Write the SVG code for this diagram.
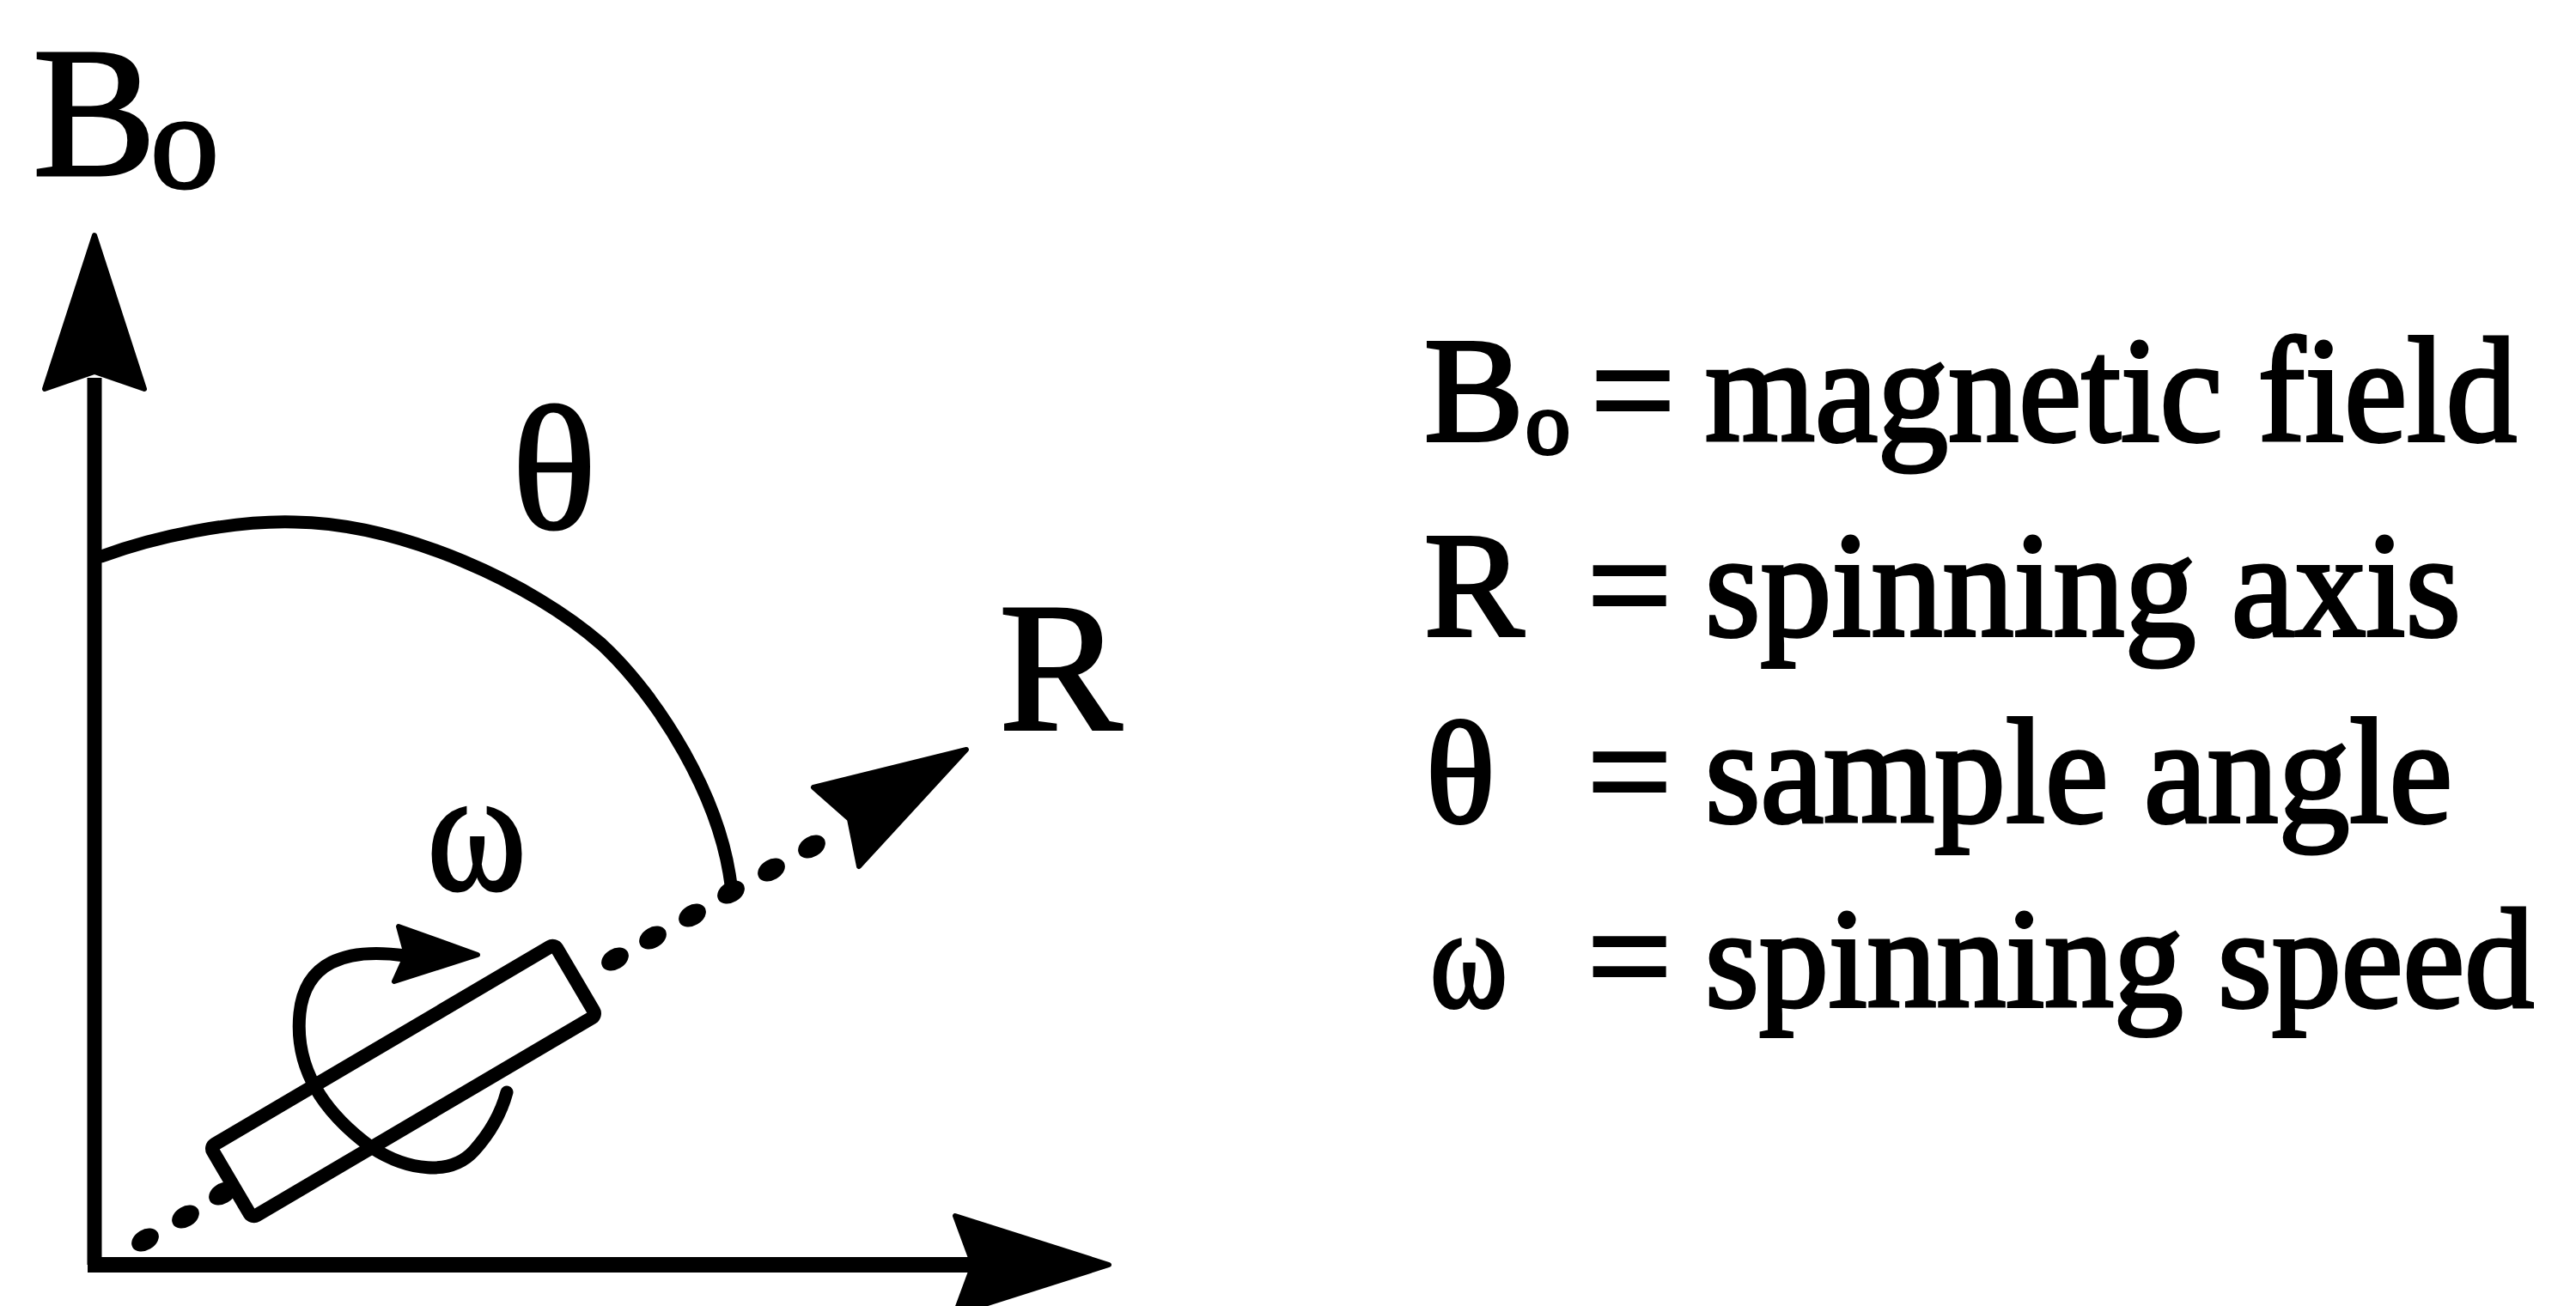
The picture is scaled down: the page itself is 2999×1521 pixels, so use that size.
<svg xmlns="http://www.w3.org/2000/svg" width="2999" height="1521" viewBox="0 0 2999 1521">
<style>
.t{font-family:"Liberation Serif","Times New Roman",serif;fill:#000;stroke:#000;stroke-width:3}
.lg{stroke-width:4}
.ln{fill:none;stroke:#000;stroke-linecap:round;stroke-linejoin:round}
.ah{fill:#000;stroke:#000;stroke-width:6;stroke-linejoin:round}
.dot{fill:#000}
</style>
<rect width="2999" height="1521" fill="#fff"/>
<g id="connectors">
  <g id="axis-B0">
    <path class="ln" d="M110,440 L110,1473" style="stroke-width:17;stroke-linecap:butt"/>
    <polygon class="ah" points="110,274 168,453 110,433 52,453"/>
  </g>
  <g id="axis-x">
    <path class="ln" d="M102,1473 L1135,1473" style="stroke-width:18;stroke-linecap:butt"/>
    <polygon class="ah" points="1291,1473 1112,1416 1133,1473 1112,1530"/>
  </g>
  <g id="axis-R">
    <ellipse class="dot" cx="169" cy="1444" rx="17" ry="12" transform="rotate(-30.5 169 1444)"/>
    <ellipse class="dot" cx="216" cy="1417" rx="17" ry="12" transform="rotate(-30.5 216 1417)"/>
    <ellipse class="dot" cx="259" cy="1390" rx="17" ry="12" transform="rotate(-30.5 259 1390)"/>
    <ellipse class="dot" cx="716" cy="1117" rx="17" ry="12" transform="rotate(-30.5 716 1117)"/>
    <ellipse class="dot" cx="760" cy="1092" rx="17" ry="12" transform="rotate(-30.5 760 1092)"/>
    <ellipse class="dot" cx="806" cy="1066" rx="17" ry="12" transform="rotate(-30.5 806 1066)"/>
    <ellipse class="dot" cx="851" cy="1039" rx="17" ry="12" transform="rotate(-30.5 851 1039)"/>
    <ellipse class="dot" cx="898" cy="1013" rx="17" ry="12" transform="rotate(-30.5 898 1013)"/>
    <ellipse class="dot" cx="945" cy="986" rx="17" ry="12" transform="rotate(-30.5 945 986)"/>
    <polygon class="ah" points="1125,873 1000,1009 989,954 947,917"/>
  </g>
  <g id="theta-arc">
    <path class="ln" d="M118,648 C180,625 270,606 343,608 C470,610 620,680 700,750 C765,810 842,930 852,1040" style="stroke-width:15"/>
  </g>
</g>
<g id="sample">
  <rect x="237" y="1211" width="465" height="96" rx="6" fill="#fff" stroke="#000" stroke-width="16" transform="rotate(-30.5 469.5 1259)"/>
</g>
<g id="omega-rotation">
  <path class="ln" d="M472,1113 C400,1103 355,1122 349,1180 C343,1240 372,1292 432,1336 C475,1364 525,1370 552,1340 C570,1320 583,1298 590,1272" style="stroke-width:15"/>
  <polygon class="ah" points="556,1112 464,1079 473,1112 459,1143"/>
</g>
<g id="label-B0">
  <text class="t" x="38" y="204" font-size="216">B<tspan font-size="160" dy="14" dx="-7">o</tspan></text>
</g>
<g id="label-theta"><text class="t" x="645" y="615" font-size="205" text-anchor="middle">θ</text></g>
<g id="label-omega"><text class="t" x="497" y="1036" font-size="204" textLength="116" lengthAdjust="spacingAndGlyphs">ω</text></g>
<g id="label-R"><text class="t" x="1163" y="850" font-size="215">R</text></g>
<g id="legend">
  <g id="legend-B0">
    <text class="t lg" x="1658" y="513" font-size="174">B<tspan font-size="104" dy="15" dx="2">o</tspan></text>
    <text class="t lg" x="1852" y="513" font-size="174">=</text>
    <text class="t lg" x="1985" y="513" font-size="174" textLength="945" lengthAdjust="spacingAndGlyphs">magnetic field</text>
  </g>
  <g id="legend-R">
    <text class="t lg" x="1658" y="740" font-size="174">R</text>
    <text class="t lg" x="1848" y="740" font-size="174">=</text>
    <text class="t lg" x="1985" y="740" font-size="174" textLength="880" lengthAdjust="spacingAndGlyphs">spinning axis</text>
  </g>
  <g id="legend-theta">
    <text class="t lg" x="1660" y="957" font-size="168">θ</text>
    <text class="t lg" x="1848" y="957" font-size="174">=</text>
    <text class="t lg" x="1985" y="957" font-size="174" textLength="870" lengthAdjust="spacingAndGlyphs">sample angle</text>
  </g>
  <g id="legend-omega">
    <text class="t lg" x="1665" y="1172" font-size="165" textLength="90" lengthAdjust="spacingAndGlyphs">ω</text>
    <text class="t lg" x="1848" y="1172" font-size="174">=</text>
    <text class="t lg" x="1985" y="1172" font-size="166" textLength="965" lengthAdjust="spacingAndGlyphs">spinning speed</text>
  </g>
</g>
</svg>
